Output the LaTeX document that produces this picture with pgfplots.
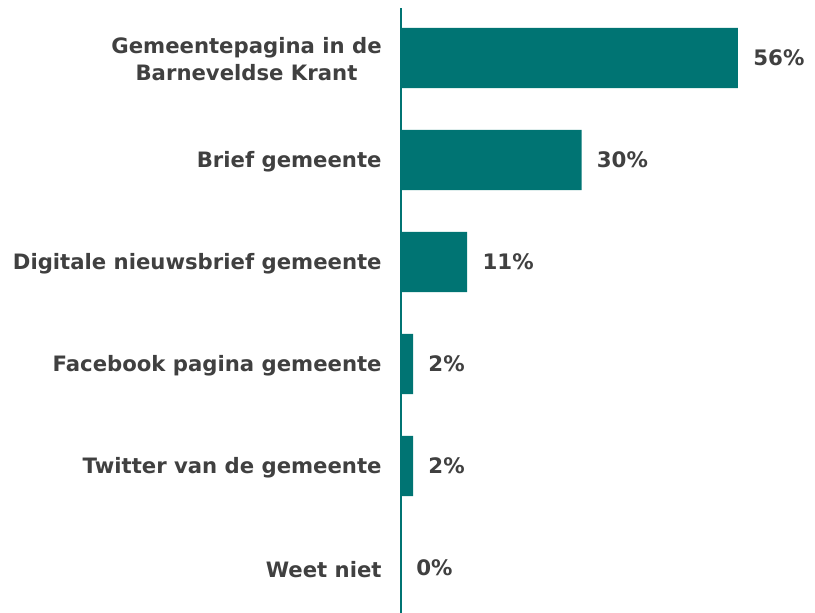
\documentclass[border=0pt]{standalone}
\usepackage{fontspec}
\setmainfont{DejaVu Sans}
\usepackage{pgfplots}
\pgfplotsset{compat=1.18}
\definecolor{barc}{HTML}{007473}
\definecolor{txt}{HTML}{404040}
\begin{document}
\begin{tikzpicture}[x=1pt,y=1pt]
\path[use as bounding box] (0,0) rectangle (611.25,459.75);
\begin{axis}[
  at={(300.75pt,0pt)}, anchor=south west,
  scale only axis, width=310.5pt, height=453.75pt,
  xmin=0, xmax=68.8, ymin=-0.441, ymax=5.49,
  xbar, bar width=0.59, bar shift=0pt,
  axis x line=none, axis y line*=left,
  y axis line style={draw=barc, line width=1.1pt},
  ytick={0,...,5},
  yticklabels={Weet niet, Twitter van de gemeente, Facebook pagina gemeente, Digitale nieuwsbrief gemeente, Brief gemeente, {Gemeentepagina in de\\Barneveldse Krant}},
  yticklabel style={align=center, font=\bfseries\fontsize{15.9}{20}\selectfont, text=txt, xshift=-11pt, yshift=-1pt},
  major tick length=0pt,
  /pgf/number format/assume math mode=true,
  nodes near coords={\pgfmathprintnumber\pgfplotspointmeta\%},
  every node near coord/.append style={anchor=west, xshift=8pt, font=\bfseries\fontsize{16}{19}\selectfont, text=txt},
  clip=false,
]
\addplot[fill=barc, draw=none] coordinates {(0,0) (2,1) (2,2) (11,3) (30,4) (56,5)};
\end{axis}
\end{tikzpicture}
\end{document}
